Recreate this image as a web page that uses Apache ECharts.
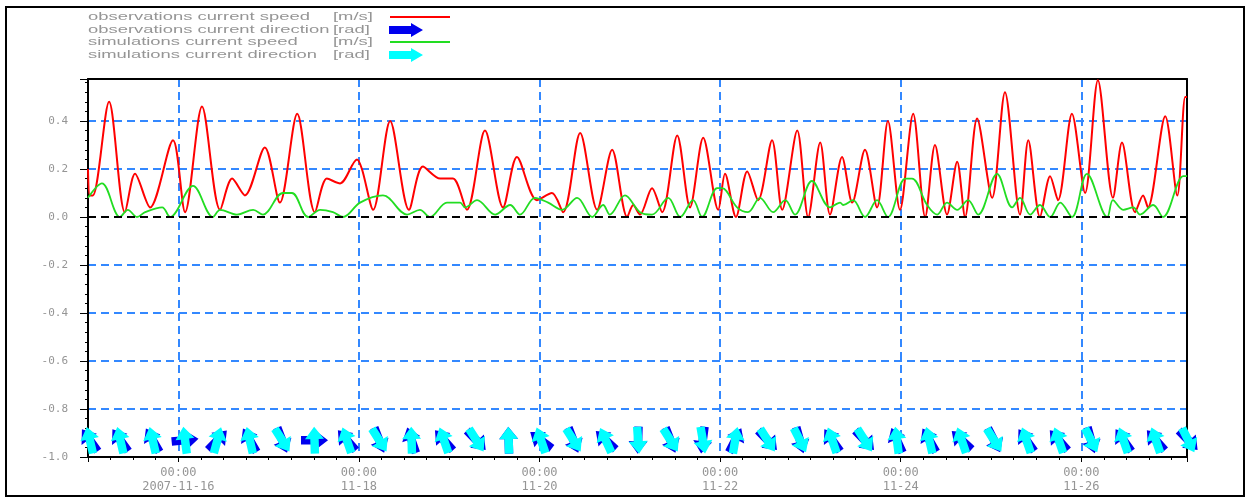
<!DOCTYPE html>
<html><head><meta charset="utf-8">
<script src="https://cdn.jsdelivr.net/npm/echarts@6/dist/echarts.min.js"></script>
<style>html,body{margin:0;padding:0;background:#fff}#c{width:1251px;height:501px}</style>
</head><body><div id="c"></div>
<script>
// Time origin: 2007-11-15 00:00 ; all times in hours since origin
const xTickLabels = ['00:00\n2007-11-16', '00:00\n11-18', '00:00\n11-20', '00:00\n11-22', '00:00\n11-24', '00:00\n11-26'];

const obsSpeedHours = [0.0,0.5,1.3,5.6,9.8,12.5,16.5,22.6,25.8,30.3,35.1,38.3,41.7,47.0,51.0,55.6,60.3,63.5,67.0,71.5,72.8,75.8,80.3,85.3,89.0,93.6,97.0,100.7,105.5,110.3,114.0,119.3,123.3,126.3,130.8,135.3,139.3,143.3,144.9,146.7,149.9,152.6,156.6,160.0,163.5,167.5,169.3,172.2,175.2,178.1,181.8,184.5,188.5,191.4,194.6,197.2,200.4,203.1,206.5,209.7,212.6,215.8,219.3,222.5,225.1,228.3,231.0,233.1,236.3,240.3,243.7,247.7,249.9,253.0,255.7,257.8,261.5,265.0,268.4,272.4,274.8,278.3,280.4,281.7,286.3,289.5,291.6,292.1];
const obsSpeed = [0.20,0.09,0.09,0.48,0.02,0.18,0.04,0.32,0.02,0.46,0.03,0.16,0.09,0.29,0.06,0.43,0.02,0.16,0.14,0.24,0.20,0.03,0.40,0.03,0.21,0.16,0.16,0.03,0.36,0.04,0.25,0.07,0.10,0.02,0.35,0.03,0.28,0.00,0.05,0.01,0.12,0.02,0.34,0.04,0.33,0.03,0.18,0.00,0.19,0.07,0.32,0.03,0.36,0.00,0.31,0.01,0.25,0.06,0.28,0.04,0.40,0.03,0.43,0.00,0.30,0.01,0.23,0.00,0.41,0.08,0.52,0.01,0.32,0.00,0.17,0.07,0.43,0.10,0.57,0.08,0.31,0.02,0.09,0.04,0.42,0.09,0.50,0.50];

const simSpeedHours = [0.0,3.7,8.5,10.6,13.0,15.2,19.7,21.8,27.9,33.2,35.1,39.6,43.9,46.5,51.8,54.2,58.5,61.7,65.1,67.8,72.3,78.4,84.8,88.2,90.9,95.4,98.9,100.2,103.4,108.2,112.2,114.8,118.8,122.3,126.0,130.0,134.0,136.9,138.7,142.7,146.7,149.9,154.2,157.4,160.8,163.2,167.2,168.5,172.5,175.4,178.6,182.1,185.3,187.9,192.4,197.2,199.9,200.7,203.3,206.5,209.7,212.6,217.2,219.0,223.0,225.7,228.3,231.0,233.9,236.6,241.6,245.6,247.7,250.4,253.0,255.7,258.4,261.5,265.5,270.9,272.4,275.1,277.8,279.6,283.1,285.7,291.1,292.1];
const simSpeed = [0.08,0.14,0.00,0.03,0.00,0.02,0.04,0.00,0.13,0.00,0.03,0.01,0.03,0.01,0.10,0.10,0.00,0.03,0.02,0.00,0.06,0.09,0.01,0.03,0.00,0.06,0.06,0.04,0.07,0.01,0.05,0.01,0.08,0.06,0.03,0.08,0.00,0.05,0.01,0.09,0.02,0.01,0.08,0.00,0.07,0.00,0.12,0.12,0.04,0.02,0.08,0.02,0.07,0.01,0.15,0.04,0.06,0.05,0.07,0.00,0.07,0.00,0.16,0.16,0.05,0.01,0.06,0.03,0.07,0.01,0.18,0.04,0.08,0.01,0.05,0.00,0.06,0.00,0.18,0.00,0.07,0.03,0.04,0.01,0.05,0.00,0.17,0.17];

const dirHours = [0.5,8.6,17.2,25.8,34.4,43.0,51.6,60.2,68.8,77.4,86.0,94.6,103.2,111.8,120.4,129.0,137.6,146.2,154.8,163.4,172.0,180.6,189.2,197.8,206.4,215.0,223.6,232.2,240.8,249.4,258.0,266.6,275.2,283.8,292.4];
const obsDirection = [2.2,2.2,2.1,0.1,0.8,2.1,-1.2,0.0,2.3,-1.2,1.9,2.3,-0.8,1.6,2.5,-1.2,2.4,-1.6,-1.2,-1.7,1.1,-0.8,-1.3,2.2,-0.8,2.0,2.1,2.4,-1.1,2.2,2.3,-1.3,2.2,2.3,-0.8];
const simDirection = [1.8,1.8,1.8,1.7,1.3,1.8,-1.0,1.6,1.9,-1.0,1.6,1.9,-1.0,1.6,1.9,-1.0,2.0,-1.5,-1.0,-1.4,1.4,-1.0,-1.1,1.9,-1.0,1.7,1.8,1.9,-1.0,1.9,1.9,-1.1,1.9,1.9,-1.1];

const arrowRowLevel = -0.93;

// helpers
const toDay = h => h / 24 - 1; // days relative to 2007-11-16 00:00
const xMin = -1, xMax = 11.17;
const blue = '#3388ff';
const gray = '#959595';
const arrowPath = 'path://M0,5L13,5L13,0L24,9L13,18L13,13L0,13Z';

const redData = obsSpeedHours.map((h, i) => [toDay(h), obsSpeed[i]]);
const greenData = simSpeedHours.map((h, i) => [toDay(h), simSpeed[i]]);
const dirData = arr => dirHours.map((h, i) => ({ value: [toDay(h), arrowRowLevel], symbolRotate: arr[i] * 180 / Math.PI }));

const chart = echarts.init(document.getElementById('c'));
const legendFont = '10px "Liberation Sans"';
const legendRows = [
  { t: 'observations current speed', u: '[m/s]', y: 17 },
  { t: 'observations current direction', u: '[rad]', y: 30 },
  { t: 'simulations current speed', u: '[m/s]', y: 42 },
  { t: 'simulations current direction', u: '[rad]', y: 55 }
];
const graphics = [
  { type: 'rect', shape: { x: 6, y: 7, width: 1238, height: 489 }, style: { fill: 'none', stroke: '#000', lineWidth: 2 }, z: 100 }
];
legendRows.forEach(r => {
  graphics.push({ type: 'text', x: 88, y: r.y, scaleX: 1.84, style: { text: r.t, font: legendFont, fill: gray, verticalAlign: 'middle' } });
  graphics.push({ type: 'text', x: 333, y: r.y, scaleX: 1.84, style: { text: r.u, font: legendFont, fill: gray, verticalAlign: 'middle' } });
});
graphics.push({ type: 'line', shape: { x1: 390, y1: 17, x2: 450, y2: 17 }, style: { stroke: '#ff0000', lineWidth: 2 } });
graphics.push({ type: 'line', shape: { x1: 390, y1: 42, x2: 450, y2: 42 }, style: { stroke: '#22dd22', lineWidth: 2 } });
graphics.push({ type: 'polygon', shape: { points: [[389,26],[411,26],[411,23],[423,30],[411,37],[411,34],[389,34]] }, style: { fill: '#0000ee' } });
graphics.push({ type: 'polygon', shape: { points: [[389,51],[411,51],[411,48],[423,55],[411,62],[411,59],[389,59]] }, style: { fill: '#00ffff' } });

chart.setOption({
  animation: false,
  backgroundColor: '#fff',
  grid: { left: 88, right: 64, top: 79, bottom: 44 },
  graphic: graphics,
  xAxis: [{
    type: 'value', min: xMin, max: xMax, splitNumber: 6,
    axisLine: { onZero: false, lineStyle: { color: '#000', width: 2 } },
    axisTick: { length: 5, lineStyle: { color: '#000' } },
    minorTick: { show: true, splitNumber: 8, length: 3, lineStyle: { color: '#000' } },
    axisLabel: {
      showMinLabel: false, showMaxLabel: false, margin: 9,
      color: gray, fontFamily: 'DejaVu Sans Mono', fontSize: 12, lineHeight: 14,
      formatter: v => { const i = Math.round(v / 2); return (Math.abs(v - 2 * i) < 1e-6 && xTickLabels[i]) ? xTickLabels[i] : ''; }
    },
    splitLine: { show: true, showMinLine: false, showMaxLine: false, lineStyle: { color: blue, type: [8, 5], width: 2 } }
  }, {
    type: 'value', min: xMin, max: xMax, position: 'top',
    axisLine: { show: true, onZero: false, lineStyle: { color: '#000', width: 2 } },
    axisTick: { show: false }, axisLabel: { show: false }, splitLine: { show: false }
  }],
  yAxis: [{
    type: 'value', min: -1, max: 0.575, interval: 0.2,
    axisLine: { show: true, onZero: false, lineStyle: { color: '#000', width: 2 } },
    axisTick: { show: true, length: 8, lineStyle: { color: '#000' } },
    minorTick: { show: true, splitNumber: 5, length: 3, lineStyle: { color: '#000' } },
    axisLabel: {
      showMaxLabel: false, margin: 20, color: gray, fontFamily: 'DejaVu Sans Mono', fontSize: 11,
      formatter: v => (Math.abs(v) < 1e-9 ? 0 : v).toFixed(1)
    },
    splitLine: { show: true, showMaxLine: false, lineStyle: { color: blue, type: [8, 5], width: 2 } }
  }, {
    type: 'value', min: -1, max: 0.575, position: 'right',
    axisLine: { show: true, onZero: false, lineStyle: { color: '#000', width: 2 } },
    axisTick: { show: false }, axisLabel: { show: false }, splitLine: { show: false }
  }],
  series: [
    {
      name: 'observations current speed', type: 'line', data: redData, showSymbol: false, smooth: 0.3,
      lineStyle: { color: '#ff0000', width: 2 }, z: 3,
      markLine: { silent: true, symbol: 'none', label: { show: false },
        lineStyle: { color: '#000', type: [8, 5], width: 2 }, data: [{ yAxis: 0 }] }
    },
    {
      name: 'simulations current speed', type: 'line', data: greenData, showSymbol: false, smooth: 0.35,
      lineStyle: { color: '#22dd22', width: 1.8 }, z: 4
    },
    {
      name: 'observations current direction', type: 'scatter', data: dirData(obsDirection), clip: false,
      symbol: arrowPath, symbolSize: [27, 19], itemStyle: { color: '#0000ee', opacity: 1 }, z: 5
    },
    {
      name: 'simulations current direction', type: 'scatter', data: dirData(simDirection), clip: false,
      symbol: arrowPath, symbolSize: [27, 19], itemStyle: { color: '#00ffff', opacity: 1 }, z: 6
    }
  ]
});
</script></body></html>
